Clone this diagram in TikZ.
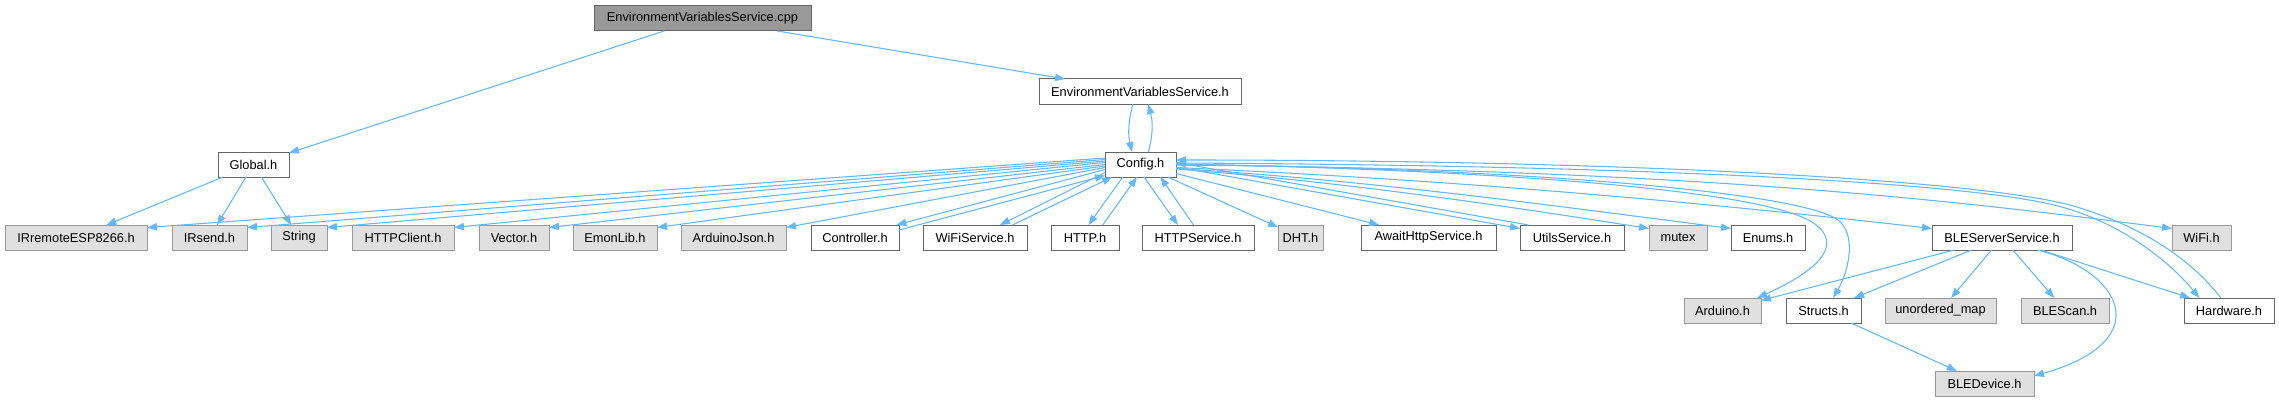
\documentclass[tikz,border=0pt]{standalone}
\usepackage{fontspec}
\setmainfont{Liberation Sans}
\usetikzlibrary{arrows.meta,calc}
\definecolor{edgeblue}{HTML}{63B8FF}
\definecolor{extfill}{HTML}{E0E0E0}
\definecolor{extdraw}{HTML}{999999}
\definecolor{locdraw}{HTML}{666666}
\definecolor{rootfill}{HTML}{999999}
\newcommand\mybox[7]{\node[#1, minimum width={(#4-#3)*0.75pt}, minimum height={(#6-#5)*0.75pt}] (#2) at ({(#3+#4)/2},{(#5+#6)/2}) {#7};}
\tikzset{
  basebox/.style={rectangle, inner sep=0pt, outer sep=0pt, line width=0.75pt, font=\fontsize{9.6pt}{11pt}\selectfont, text=black},
  locbox/.style={basebox, draw=locdraw, fill=white},
  extbox/.style={basebox, draw=extdraw, fill=extfill},
  rootbox/.style={basebox, draw=locdraw, fill=rootfill},
  edge/.style={draw=edgeblue, line width=0.8pt, -{Triangle[length=7.5pt,width=5.5pt]}, fill=none},
}
\begin{document}
\begin{tikzpicture}[x=0.75pt,y=-0.75pt]
\useasboundingbox (0,0) rectangle (2279,403);
\fill[white] (0,0) rectangle (2279,403);
% rank 0
\mybox{rootbox}{cpp}{594}{811}{6}{31}{EnvironmentVariablesService.cpp}
% rank 1
\mybox{locbox}{evs}{1039}{1241}{79}{104}{EnvironmentVariablesService.h}
% rank 2
\mybox{locbox}{glob}{218}{289}{152}{177}{Global.h}
\mybox{locbox}{cfg}{1105}{1176}{152}{177}{Config.h}
% rank 3
\mybox{extbox}{irr}{5}{147}{225}{250}{IRremoteESP8266.h}
\mybox{extbox}{irs}{172}{247}{225}{250}{IRsend.h}
\mybox{extbox}{strg}{271}{327}{225}{250}{String}
\mybox{extbox}{httpc}{352}{454}{225}{250}{HTTPClient.h}
\mybox{extbox}{vec}{479}{549}{225}{250}{Vector.h}
\mybox{extbox}{emon}{573}{657}{225}{250}{EmonLib.h}
\mybox{extbox}{ajson}{681}{786}{225}{250}{ArduinoJson.h}
\mybox{locbox}{ctrl}{811}{899}{225}{250}{Controller.h}
\mybox{locbox}{wifis}{923}{1027}{225}{250}{WiFiService.h}
\mybox{locbox}{http}{1051}{1119}{225}{250}{HTTP.h}
\mybox{locbox}{https}{1142}{1254}{225}{250}{HTTPService.h}
\mybox{extbox}{dht}{1278}{1323}{225}{250}{DHT.h}
\mybox{locbox}{await}{1361}{1496}{225}{250}{AwaitHttpService.h}
\mybox{locbox}{utils}{1520}{1624}{225}{250}{UtilsService.h}
\mybox{extbox}{mutex}{1649}{1707}{225}{250}{mutex}
\mybox{locbox}{enums}{1731}{1805}{225}{250}{Enums.h}
\mybox{locbox}{bles}{1932}{2072}{225}{250}{BLEServerService.h}
\mybox{extbox}{wifi}{2172}{2231}{225}{250}{WiFi.h}
% rank 4
\mybox{extbox}{ard}{1684}{1761}{298}{323}{Arduino.h}
\mybox{locbox}{str}{1786}{1861}{298}{323}{Structs.h}
\mybox{extbox}{umap}{1885}{1996}{298}{323}{unordered\_map}
\mybox{extbox}{blescan}{2021}{2109}{298}{323}{BLEScan.h}
\mybox{locbox}{hw}{2184}{2274}{298}{323}{Hardware.h}
% rank 5
\mybox{extbox}{bled}{1935}{2034}{371}{396}{BLEDevice.h}

% ---- edges ----
\draw[edge] (cpp) -- (glob);
\draw[edge] (cpp) -- (evs);
\draw[edge] ($(evs.south west)!0.465!(evs.south east)$) .. controls (1128,122) and (1128,135) .. ($(cfg.north west)!0.38!(cfg.north east)$);
\draw[edge] ($(cfg.north west)!0.61!(cfg.north east)$) .. controls (1153,135) and (1153,122) .. ($(evs.south west)!0.54!(evs.south east)$);
\draw[edge] (glob) -- (irr);
\draw[edge] (glob) -- (irs);
\draw[edge] (glob) -- (strg);
% Config left fan
\draw[edge] ($(cfg.north west)!0.24!(cfg.south west)$) -- ($(irr.north east)!0.1!(irr.south east)$);
\draw[edge] ($(cfg.north west)!0.30!(cfg.south west)$) -- ($(irs.north east)!0.1!(irs.south east)$);
\draw[edge] ($(cfg.north west)!0.36!(cfg.south west)$) -- ($(strg.north east)!0.1!(strg.south east)$);
\draw[edge] ($(cfg.north west)!0.42!(cfg.south west)$) -- ($(httpc.north east)!0.1!(httpc.south east)$);
\draw[edge] ($(cfg.north west)!0.50!(cfg.south west)$) -- ($(vec.north east)!0.1!(vec.south east)$);
\draw[edge] ($(cfg.north west)!0.56!(cfg.south west)$) -- ($(emon.north east)!0.1!(emon.south east)$);
\draw[edge] ($(cfg.north west)!0.62!(cfg.south west)$) -- ($(ajson.north east)!0.1!(ajson.south east)$);
\draw[edge] ($(cfg.north west)!0.70!(cfg.south west)$) -- ($(ctrl.north west)!0.97!(ctrl.north east)$);
\draw[edge] ($(ctrl.north east)!0.2!(ctrl.south east)$) -- ($(cfg.north west)!0.94!(cfg.south west)$);
\draw[edge] ($(cfg.north west)!0.82!(cfg.south west)$) -- ($(wifis.north west)!0.74!(wifis.north east)$);
\draw[edge] ($(wifis.north west)!0.86!(wifis.north east)$) -- ($(cfg.south west)!0.1!(cfg.south east)$);
\draw[edge] ($(cfg.south west)!0.25!(cfg.south east)$) -- ($(http.north west)!0.55!(http.north east)$);
\draw[edge] ($(http.north west)!0.76!(http.north east)$) -- ($(cfg.south west)!0.45!(cfg.south east)$);
\draw[edge] ($(cfg.south west)!0.55!(cfg.south east)$) -- ($(https.north west)!0.32!(https.north east)$);
\draw[edge] ($(https.north west)!0.46!(https.north east)$) -- ($(cfg.south west)!0.78!(cfg.south east)$);
\draw[edge] (cfg) -- (dht);
\draw[edge] (cfg) -- (await);
\draw[edge] ($(cfg.north east)!0.6!(cfg.south east)$) -- ($(utils.north west)!0.14!(utils.south west)$);
\draw[edge] ($(utils.north west)!0.08!(utils.north east)$) -- ($(cfg.north east)!0.42!(cfg.south east)$);
\draw[edge] ($(cfg.north east)!0.68!(cfg.south east)$) .. controls (1341,182) and (1484,202.5) .. ($(mutex.north west)!0.14!(mutex.south west)$);
\draw[edge] ($(cfg.north east)!0.66!(cfg.south east)$) .. controls (1371,180.5) and (1536,203.5) .. ($(enums.north west)!0.14!(enums.south west)$);
\draw[edge] ($(cfg.north east)!0.62!(cfg.south east)$) .. controls (1441,179.5) and (1667,198.5) .. ($(bles.north west)!0.14!(bles.south west)$);
\draw[edge] ($(cfg.north east)!0.52!(cfg.south east)$) .. controls (1700,170) and (1950,200) .. ($(wifi.north west)!0.14!(wifi.south west)$);
\draw[edge] ($(cfg.north east)!0.48!(cfg.south east)$) .. controls (1500,170) and (1760,190) .. (1812,222) .. controls (1840,240) and (1830,265) .. ($(ard.north west)!0.95!(ard.north east)$);
\draw[edge] ($(cfg.north east)!0.5!(cfg.south east)$) .. controls (1520,168) and (1800,192) .. (1838,220) .. controls (1856,234) and (1850,268) .. ($(str.north west)!0.63!(str.north east)$);
\draw[edge] ($(cfg.north east)!0.44!(cfg.south east)$) .. controls (1600,165) and (1950,180) .. (2054,205) .. controls (2120,221) and (2170,262) .. ($(hw.north west)!0.17!(hw.north east)$);
\draw[edge] ($(hw.north west)!0.41!(hw.north east)$) .. controls (2190,258) and (2140,225) .. (2070,205) .. controls (1965,178) and (1600,160) .. ($(cfg.north east)!0.32!(cfg.south east)$);
% BLEServerService
\draw[edge] (bles) -- (ard);
\draw[edge] (bles) -- (str);
\draw[edge] (bles) -- (umap);
\draw[edge] (bles) -- (blescan);
\draw[edge] (bles) -- (hw);
\draw[edge] ($(bles.south west)!0.75!(bles.south east)$) .. controls (2120,270) and (2160,340) .. ($(bled.north east)!0.2!(bled.south east)$);
\draw[edge] (str) -- (bled);
\end{tikzpicture}
\end{document}
